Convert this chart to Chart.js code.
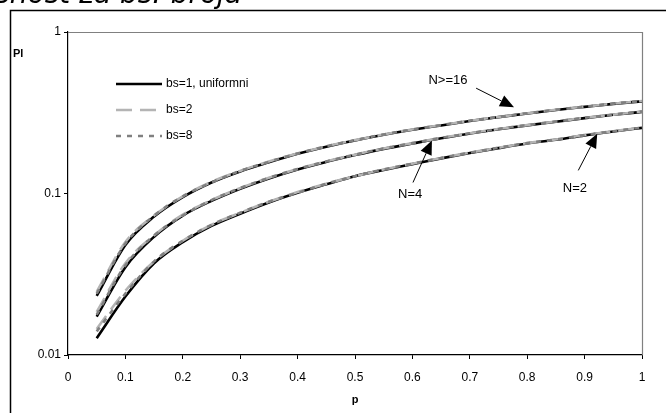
<!DOCTYPE html>
<html>
<head>
<meta charset="utf-8">
<script src="https://cdn.jsdelivr.net/npm/chart.js@4.4.1/dist/chart.umd.min.js"></script>
<style>
  html, body { margin: 0; padding: 0; background: #fff; }
  #wrap { width: 666px; height: 413px; position: relative; overflow: hidden; }
</style>
</head>
<body>
<div id="wrap"><canvas id="plChart" width="666" height="413"></canvas></div>
<script>
/* Pl vs p, log scale, three N groups x three bs variants */

const pValues = [0.05, 0.1, 0.15, 0.2, 0.25, 0.3, 0.35, 0.4, 0.45, 0.5,
                 0.55, 0.6, 0.65, 0.7, 0.75, 0.8, 0.85, 0.9, 0.95, 1.0];
const pTicks = [0, 0.1, 0.2, 0.3, 0.4, 0.5, 0.6, 0.7, 0.8, 0.9, 1];
const plTicks = [0.01, 0.1, 1];
const legendNames = ['bs=1, uniformni', 'bs=2', 'bs=8'];

// N >= 16
const n16Bs1 = [0.0232, 0.048, 0.072, 0.095, 0.117, 0.137, 0.156, 0.176, 0.195, 0.213,
                0.231, 0.248, 0.264, 0.281, 0.297, 0.313, 0.329, 0.344, 0.359, 0.372];
const n16Bs2 = [0.0246, 0.050, 0.073, 0.096, 0.118, 0.138, 0.158, 0.177, 0.196, 0.214,
                0.232, 0.249, 0.265, 0.282, 0.298, 0.314, 0.330, 0.345, 0.360, 0.374];
const n16Bs8 = [0.0240, 0.049, 0.073, 0.096, 0.117, 0.138, 0.157, 0.177, 0.196, 0.214,
                0.232, 0.249, 0.265, 0.282, 0.298, 0.314, 0.330, 0.345, 0.360, 0.374];
// N = 4
const n4Bs1 = [0.0173, 0.035, 0.054, 0.073, 0.090, 0.107, 0.124, 0.141, 0.157, 0.173,
               0.189, 0.204, 0.220, 0.235, 0.250, 0.264, 0.278, 0.293, 0.307, 0.320];
const n4Bs2 = [0.0185, 0.037, 0.055, 0.074, 0.091, 0.108, 0.125, 0.142, 0.158, 0.174,
               0.190, 0.205, 0.221, 0.236, 0.251, 0.265, 0.279, 0.294, 0.308, 0.322];
const n4Bs8 = [0.0178, 0.036, 0.055, 0.073, 0.091, 0.108, 0.125, 0.142, 0.158, 0.174,
               0.190, 0.205, 0.221, 0.236, 0.251, 0.265, 0.279, 0.294, 0.308, 0.322];
// N = 2
const n2Bs1 = [0.0127, 0.023, 0.037, 0.050, 0.063, 0.075, 0.088, 0.101, 0.114, 0.128,
               0.140, 0.152, 0.165, 0.178, 0.191, 0.204, 0.215, 0.229, 0.242, 0.255];
const n2Bs2 = [0.0145, 0.025, 0.038, 0.051, 0.064, 0.076, 0.089, 0.102, 0.115, 0.128,
               0.141, 0.153, 0.166, 0.179, 0.192, 0.205, 0.216, 0.230, 0.243, 0.256];
const n2Bs8 = [0.0140, 0.024, 0.038, 0.051, 0.064, 0.076, 0.089, 0.101, 0.115, 0.128,
               0.141, 0.153, 0.166, 0.179, 0.192, 0.205, 0.216, 0.230, 0.243, 0.256];

// annotation labels: [text, label p, label Pl, tail p, tail Pl, head p, head Pl]
const notes = [
  ['N>=16', 0.662, 0.50, 0.711, 0.449, 0.777, 0.342],
  ['N=4',   0.596, 0.0987, 0.601, 0.117, 0.634, 0.213],
  ['N=2',   0.883, 0.107, 0.889, 0.139, 0.922, 0.234]
];

// line styles per bs variant
const styles = [
  { color: '#000000', dash: [], order: 3 },
  { color: '#b4b4b4', dash: [16, 8], order: 2 },
  { color: '#808080', dash: [5, 6], order: 1 }
];

function toPoints(arr) {
  return arr.map((v, i) => ({ x: pValues[i], y: v }));
}

function makeDataset(name, values, bs) {
  const st = styles[bs];
  return {
    label: name,
    data: toPoints(values),
    borderColor: st.color,
    borderDash: st.dash,
    borderWidth: 2.6,
    pointRadius: 0,
    cubicInterpolationMode: 'monotone',
    fill: false,
    order: st.order
  };
}

const datasets = [
  makeDataset(legendNames[0], n16Bs1, 0),
  makeDataset(legendNames[1], n16Bs2, 1),
  makeDataset(legendNames[2], n16Bs8, 2),
  makeDataset(legendNames[0], n4Bs1, 0),
  makeDataset(legendNames[1], n4Bs2, 1),
  makeDataset(legendNames[2], n4Bs8, 2),
  makeDataset(legendNames[0], n2Bs1, 0),
  makeDataset(legendNames[1], n2Bs2, 1),
  makeDataset(legendNames[2], n2Bs8, 2)
];

const FONT = '"Liberation Sans", Arial, sans-serif';

/**
 * Frame, axis titles, plot border, legend and arrows
 */
const decorPlugin = {
  id: 'decor',
  beforeDraw(chart) {
    const ctx = chart.ctx;
    ctx.save();
    ctx.fillStyle = '#fff';
    ctx.fillRect(0, 0, chart.width, chart.height);
    // caption of the page above, cut off at the top edge
    ctx.fillStyle = '#000';
    ctx.font = 'italic 28px "DejaVu Sans", sans-serif';
    ctx.textBaseline = 'alphabetic';
    ctx.textAlign = 'right';
    ctx.fillText('zavisnost za bs: broja', 242, 3);
    // outer frame
    ctx.strokeStyle = '#000';
    ctx.lineWidth = 1.5;
    ctx.beginPath();
    ctx.moveTo(10.5, chart.height);
    ctx.lineTo(10.5, 10.5);
    ctx.lineTo(chart.width, 10.5);
    ctx.stroke();
    ctx.restore();
  },
  afterDraw(chart) {
    const ctx = chart.ctx;
    const a = chart.chartArea;
    const xs = chart.scales.x;
    const ys = chart.scales.y;
    ctx.save();

    // gray top/right border of plot
    ctx.strokeStyle = '#808080';
    ctx.lineWidth = 1.2;
    ctx.beginPath();
    ctx.moveTo(a.left, a.top + 0.5);
    ctx.lineTo(a.right + 0.5, a.top + 0.5);
    ctx.lineTo(a.right + 0.5, a.bottom);
    ctx.stroke();

    // axis titles
    ctx.fillStyle = '#000';
    ctx.font = 'bold 11px ' + FONT;
    ctx.textAlign = 'left';
    ctx.textBaseline = 'middle';
    ctx.fillText('Pl', 13, 54);
    ctx.textAlign = 'center';
    ctx.fillText('p', (a.left + a.right) / 2, 400);

    // legend from the first three datasets
    ctx.font = '12px ' + FONT;
    ctx.textAlign = 'left';
    for (let i = 0; i < 3; i++) {
      const ds = chart.data.datasets[i];
      const y = 84 + i * 26;
      ctx.strokeStyle = ds.borderColor;
      ctx.lineWidth = ds.borderWidth;
      ctx.setLineDash(ds.borderDash);
      ctx.beginPath();
      ctx.moveTo(116, y);
      ctx.lineTo(162, y);
      ctx.stroke();
      ctx.setLineDash([]);
      ctx.fillStyle = '#000';
      ctx.fillText(ds.label, 166, y);
    }

    // labels with arrows
    ctx.font = '13px ' + FONT;
    ctx.textAlign = 'center';
    notes.forEach(n => {
      const tx = xs.getPixelForValue(n[1]);
      const ty = ys.getPixelForValue(n[2]);
      const x0 = xs.getPixelForValue(n[3]);
      const y0 = ys.getPixelForValue(n[4]);
      const x1 = xs.getPixelForValue(n[5]);
      const y1 = ys.getPixelForValue(n[6]);
      ctx.fillStyle = '#000';
      ctx.fillText(n[0], tx, ty);
      const ang = Math.atan2(y1 - y0, x1 - x0);
      const len = 14, half = 6;
      const bx = x1 - len * Math.cos(ang);
      const by = y1 - len * Math.sin(ang);
      ctx.strokeStyle = '#000';
      ctx.lineWidth = 1;
      ctx.beginPath();
      ctx.moveTo(x0, y0);
      ctx.lineTo(bx, by);
      ctx.stroke();
      ctx.beginPath();
      ctx.moveTo(x1, y1);
      ctx.lineTo(bx + half * Math.sin(ang), by - half * Math.cos(ang));
      ctx.lineTo(bx - half * Math.sin(ang), by + half * Math.cos(ang));
      ctx.closePath();
      ctx.fill();
    });
    ctx.restore();
  }
};

new Chart(document.getElementById('plChart').getContext('2d'), {
  type: 'line',
  data: { datasets: datasets },
  options: {
    responsive: false,
    animation: false,
    devicePixelRatio: 1,
    layout: { padding: { top: 32, right: 24, left: 0, bottom: 0 } },
    plugins: {
      legend: { display: false },
      tooltip: { enabled: false }
    },
    scales: {
      x: {
        type: 'linear',
        min: 0,
        max: 1,
        afterFit: s => { s.height = 58; },
        afterBuildTicks: s => { s.ticks = pTicks.map(v => ({ value: v })); },
        grid: { display: true, drawOnChartArea: false, drawTicks: true, tickLength: 4, color: '#000', lineWidth: 1 },
        border: { display: true, color: '#000', width: 1.2 },
        ticks: {
          color: '#000',
          font: { family: FONT, size: 12 },
          padding: 11,
          maxRotation: 0,
          autoSkip: false,
          callback: v => String(Math.round(v * 10) / 10)
        }
      },
      y: {
        type: 'logarithmic',
        min: 0.01,
        max: 1,
        afterFit: s => { s.width = 68; },
        afterBuildTicks: s => { s.ticks = plTicks.map(v => ({ value: v })); },
        grid: { display: true, drawOnChartArea: false, drawTicks: true, tickLength: 4, color: '#000', lineWidth: 1 },
        border: { display: true, color: '#000', width: 1.2 },
        ticks: {
          color: '#000',
          font: { family: FONT, size: 12 },
          padding: 3,
          autoSkip: false,
          callback: v => String(v)
        }
      }
    }
  },
  plugins: [decorPlugin]
});
</script>
</body>
</html>
